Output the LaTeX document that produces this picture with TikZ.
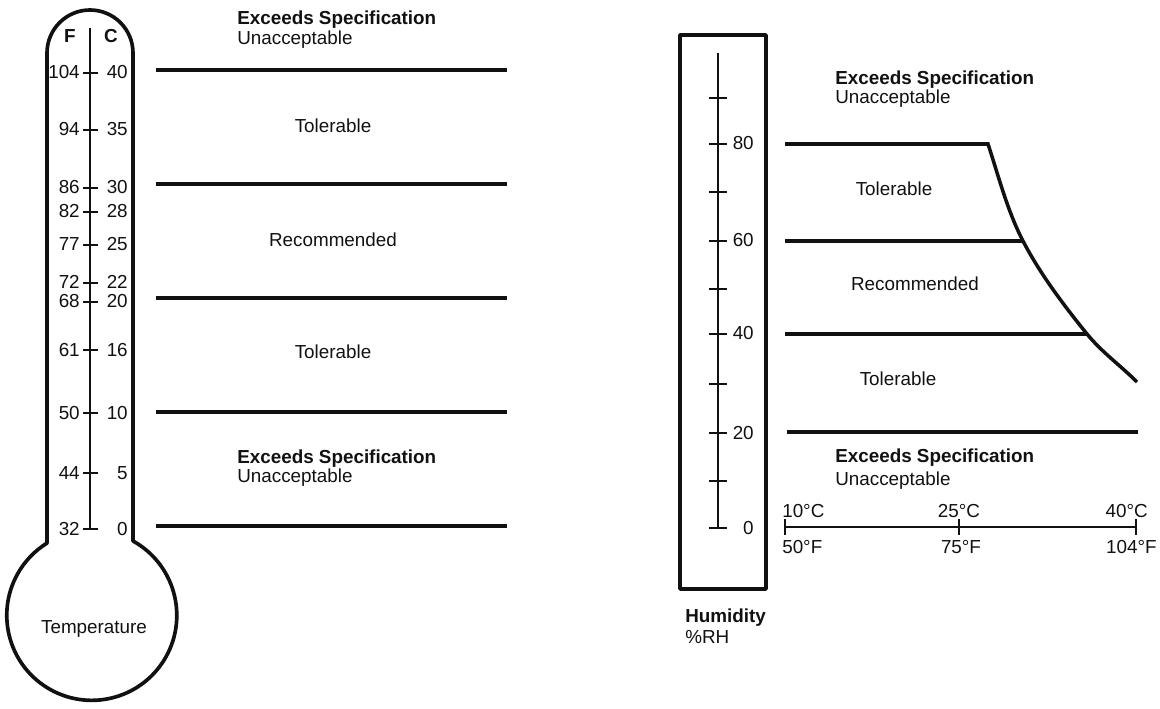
\documentclass[tikz,border=0pt]{standalone}
\usepackage{fontspec}
\setmainfont{Liberation Sans}
\usetikzlibrary{positioning}
\definecolor{ink}{HTML}{111111}
\newcommand{\chartfont}{\fontsize{13.4}{15}\selectfont}

\begin{document}
\begin{tikzpicture}[
    x=0.025cm, y=-0.025cm,
    outline/.style={draw=ink, line width=2.6pt, line join=round},
    band/.style={draw=ink, line width=2.5pt},
    gauge/.style={draw=ink, line width=1.6pt},
    notch/.style={draw=ink, line width=1.6pt},
    axisline/.style={draw=ink, line width=1.4pt},
    num/.style={font=\chartfont, text=ink, inner sep=0pt, anchor=base east},
    zone/.style={font=\chartfont, text=ink, inner sep=0pt, anchor=base},
    head/.style={font=\chartfont\bfseries, text=ink, inner sep=0pt, anchor=base west},
    sub/.style={font=\chartfont, text=ink, inner sep=0pt, anchor=base west}
  ]
  \useasboundingbox (0,0) rectangle (1160,709);

  % ============ THERMOMETER ============
  \coordinate (bulb) at (92,615);
  \draw[outline] (47,543) -- (47,53) arc[start angle=180, end angle=360, radius=43]
    -- (133,541) arc[start angle=-61, end angle=238, radius=85] -- cycle;
  \node[zone] (temp) at (94,633) {Temperature};

  % ---- F / C heading ----
  \node[zone, font=\chartfont\bfseries] (Fhead) at (70,43) {F};
  \node[zone, font=\chartfont\bfseries] (Chead) at (111,43) {C};

  % ---- scale ----
  \draw[gauge] (90,28) -- (90,529);
  \draw[notch] (83,73) -- (98,73);
  \draw[notch] (83,130) -- (98,130);
  \draw[notch] (83,188) -- (98,188);
  \draw[notch] (83,212) -- (98,212);
  \draw[notch] (83,245) -- (98,245);
  \draw[notch] (83,283) -- (98,283);
  \draw[notch] (83,302) -- (98,302);
  \draw[notch] (83,350) -- (98,350);
  \draw[notch] (83,413) -- (98,413);
  \draw[notch] (83,473) -- (98,473);
  \draw[notch] (83,529) -- (98,529);

  \node[num] (F104) at (80,79) {104};  \node[num] (C40) at (128,79) {40};
  \node[num] (F94) at (80,136) {94};   \node[num] (C35) at (128,136) {35};
  \node[num] (F86) at (80,194) {86};   \node[num] (C30) at (128,194) {30};
  \node[num] (F82) at (80,218) {82};   \node[num] (C28) at (128,218) {28};
  \node[num] (F77) at (80,251) {77};   \node[num] (C25) at (128,251) {25};
  \node[num] (F72) at (80,289) {72};   \node[num] (C22) at (128,289) {22};
  \node[num] (F68) at (80,308) {68};   \node[num] (C20) at (128,308) {20};
  \node[num] (F61) at (80,356) {61};   \node[num] (C16) at (128,356) {16};
  \node[num] (F50) at (80,419) {50};   \node[num] (C10) at (128,419) {10};
  \node[num] (F44) at (80,479) {44};   \node[num] (C5) at (128,479) {5};
  \node[num] (F32) at (80,535) {32};   \node[num] (C0) at (128,535) {0};

  % ---- temperature bands ----
  \draw[band] (156,70) -- (507,70);
  \draw[band] (156,184) -- (507,184);
  \draw[band] (156,298) -- (507,298);
  \draw[band] (156,412) -- (507,412);
  \draw[band] (156,526) -- (507,526);

  \node[head] (exTop) at (237,25) {Exceeds Specification};
  \node[sub] (unTop) at (237,45) {Unacceptable};
  \node[zone] (tolHi) at (333,133) {Tolerable};
  \node[zone] (recTemp) at (333,247) {Recommended};
  \node[zone] (tolLo) at (333,359) {Tolerable};
  \node[head] (exLow) at (237,463) {Exceeds Specification};
  \node[sub] (unLow) at (237,482) {Unacceptable};

  % ============ HUMIDITY GAUGE ============
  \draw[outline] (680,35) rectangle (766,589);
  \draw[gauge] (718,53) -- (718,528);
  \draw[notch] (709,98) -- (727,98);
  \draw[notch] (709,144) -- (727,144);
  \draw[notch] (709,192) -- (727,192);
  \draw[notch] (709,241) -- (727,241);
  \draw[notch] (709,289) -- (727,289);
  \draw[notch] (709,334) -- (727,334);
  \draw[notch] (709,384) -- (727,384);
  \draw[notch] (709,433) -- (727,433);
  \draw[notch] (709,481) -- (727,481);
  \draw[notch] (709,528) -- (727,528);

  \node[num] (H80) at (754,150) {80};
  \node[num] (H60) at (754,247) {60};
  \node[num] (H40) at (754,340) {40};
  \node[num] (H20) at (754,439) {20};
  \node[num] (H0) at (754,534) {0};

  \node[head] (hum) at (685,622) {Humidity};
  \node[sub] (rh) at (685,643) {\%RH};

  % ---- humidity bands ----
  \coordinate (k80) at (988,144);
  \coordinate (k60) at (1023,241);
  \coordinate (k40) at (1087,334);
  \coordinate (kEnd) at (1137,382);
  \draw[band, line join=miter] (785,144) -- (k80)
    .. controls (998.5,176) and (1007.3,210.8) .. (k60)
    .. controls (1040.1,273.9) and (1063.7,305.2) .. (k40)
    .. controls (1101.5,351.9) and (1120.7,365.7) .. (kEnd);
  \draw[band] (785,241) -- (k60);
  \draw[band] (785,334) -- (k40);
  \draw[band] (787,432) -- (1138,432);

  \node[head] (exHum) at (835,85) {Exceeds Specification};
  \node[sub] (unHum) at (835,104) {Unacceptable};
  \node[zone] (tolHumHi) at (894,196) {Tolerable};
  \node[zone] (recHum) at (915,290) {Recommended};
  \node[zone] (tolHumLo) at (898,386) {Tolerable};
  \node[head] (exHumLo) at (835,462) {Exceeds Specification};
  \node[sub] (unHumLo) at (835,485) {Unacceptable};

  % ---- temperature axis ----
  \draw[axisline] (785,527) -- (1136,527);
  \draw[axisline] (785,519) -- (785,535);
  \draw[axisline] (959,519) -- (959,535);
  \draw[axisline] (1136,519) -- (1136,535);

  \node[sub] (t10C) at (782,517) {10°C};
  \node[zone] (t25C) at (959,517) {25°C};
  \node[num] (t40C) at (1148,517) {40°C};
  \node[sub] (t50F) at (782,553) {50°F};
  \node[zone] (t75F) at (961,553) {75°F};
  \node[num] (t104F) at (1157,553) {104°F};

\end{tikzpicture}
\end{document}
